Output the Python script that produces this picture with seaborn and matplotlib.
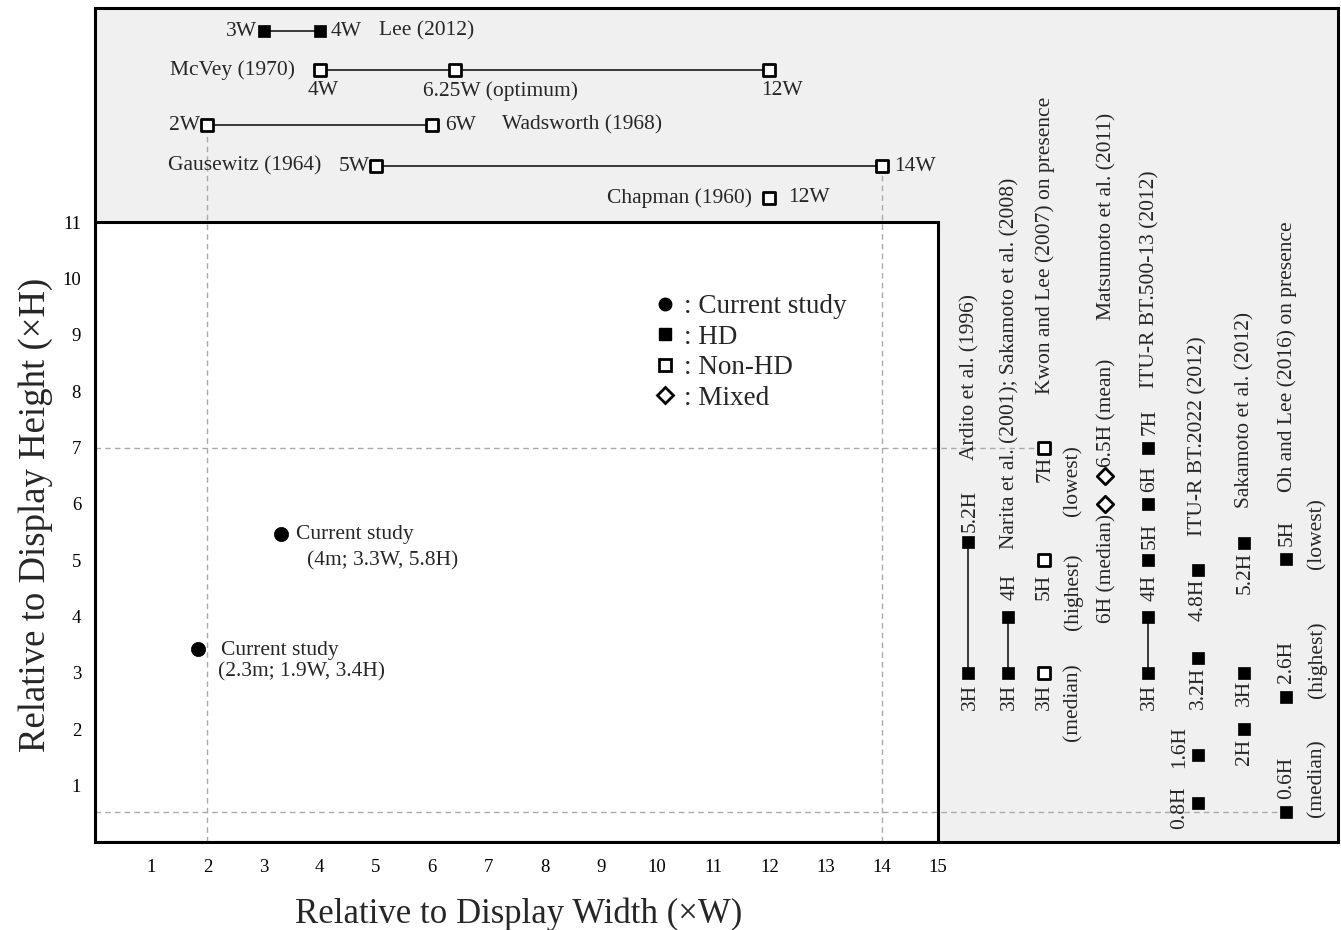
import pandas as pd
import matplotlib.pyplot as plt
import seaborn as sns
from matplotlib.lines import Line2D
from matplotlib.patches import Rectangle

# --- Data ---

# top panel: viewing distance relative to display width (xW)
width_studies = ["Lee (2012)", "McVey (1970)", "Wadsworth (1968)", "Gausewitz (1964)", "Chapman (1960)"]
width_values = [[3, 4], [4, 6.4, 12], [2, 6], [5, 14], [12]]
width_kind = ["HD", "Non-HD", "Non-HD", "Non-HD", "Non-HD"]
width_joined = [2, 3, 2, 2, 0]   # how many leading points are joined by a line

# right panel: viewing distance relative to display height (xH)
height_studies = ["Ardito et al. (1996)", "Narita et al. (2001); Sakamoto et al. (2008)",
                  "Kwon and Lee (2007) on presence", "Matsumoto et al. (2011)",
                  "ITU-R BT.500-13 (2012)", "ITU-R BT.2022 (2012)",
                  "Sakamoto et al. (2012)", "Oh and Lee (2016) on presence"]
height_values = [[3, 5.33], [3, 4], [3, 5, 7], [6, 6.5], [3, 4, 5, 6, 7],
                 [0.69, 1.54, 3.26, 4.83], [2, 3, 5.3], [0.53, 2.57, 5.02]]
height_kind = ["HD", "HD", "Non-HD", "Mixed", "HD", "HD", "HD", "HD"]
height_joined = [2, 2, 0, 0, 2, 0, 0, 0]

# current study
current_w = [1.83, 3.31]
current_h = [3.42, 5.46]

# --- Layout (positions of the study rows / columns outside the main box) ---
width_rows = [14.39, 13.70, 12.72, 11.99, 11.43]
height_cols = [15.53, 16.25, 16.89, 17.97, 18.74, 19.63, 20.44, 21.19]

XMAX, YMAX = 22.12, 14.80
FS = 15.5
GRAY_BG = "#f0f0f0"
DASH = "#aaaaaa"

sns.set_theme(style="white")
plt.rcParams["font.family"] = ["Liberation Serif", "DejaVu Serif"]

# build long tables
rows = []
for study, vals, kind, y in zip(width_studies, width_values, width_kind, width_rows):
    for v in vals:
        rows.append({"study": study, "x": v, "y": y, "kind": kind})
for study, vals, kind, x in zip(height_studies, height_values, height_kind, height_cols):
    for v in vals:
        rows.append({"study": study, "x": x, "y": v, "kind": kind})
for w, h in zip(current_w, current_h):
    rows.append({"study": "Current study", "x": w, "y": h, "kind": "Current"})
points = pd.DataFrame(rows)

seg_rows = []
for study, vals, n, y in zip(width_studies, width_values, width_joined, width_rows):
    for v in vals[:n]:
        seg_rows.append({"seg": study, "x": v, "y": y})
for study, vals, n, x in zip(height_studies, height_values, height_joined, height_cols):
    for v in vals[:n]:
        seg_rows.append({"seg": study, "x": x, "y": v})
segments = pd.DataFrame(seg_rows)

fig = plt.figure(figsize=(13.41, 9.30), dpi=100)
ax = fig.add_axes([95 / 1341, 88 / 930, 1243 / 1341, 834 / 930])
ax.set_xlim(0, XMAX)
ax.set_ylim(0, YMAX)
ax.set_facecolor(GRAY_BG)
for sp in ax.spines.values():
    sp.set_linewidth(2.2)
    sp.set_color("black")

# main white plotting box
ax.add_patch(Rectangle((0, 0), 15, 11, facecolor="white", edgecolor="black", lw=2.2, zorder=1))

# dashed guide lines
ax.vlines(min(width_values[2]), 0, width_rows[2], colors=DASH, linestyles=(0, (4, 3)), lw=1, zorder=2)
ax.vlines(max(width_values[3]), 0, width_rows[3], colors=DASH, linestyles=(0, (4, 3)), lw=1, zorder=2)
ax.hlines(max(height_values[2]), 0, height_cols[2], colors=DASH, linestyles=(0, (4, 3)), lw=1, zorder=2)
ax.hlines(min(height_values[7]), 0, height_cols[7], colors=DASH, linestyles=(0, (4, 3)), lw=1, zorder=2)

# connecting lines
sns.lineplot(data=segments, x="x", y="y", units="seg", estimator=None, sort=False,
             color="#3a3a3a", lw=1.4, ax=ax, legend=False, zorder=3)

styles = {
    "HD": dict(marker="s", color="black", edgecolor="black", s=80, linewidth=0.5),
    "Non-HD": dict(marker="s", color="white", edgecolor="black", s=70, linewidth=2),
    "Mixed": dict(marker="D", color="white", edgecolor="black", s=70, linewidth=2),
    "Current": dict(marker="o", color="black", edgecolor="black", s=105, linewidth=0.5),
}
for kind, st in styles.items():
    sub = points[points["kind"] == kind]
    sns.scatterplot(data=sub, x="x", y="y", ax=ax, legend=False, zorder=5, **st)

# top panel annotations
top_notes = [
    (2.88, 14.39, "3W", "right"), (4.20, 14.39, "4W", "left"), (5.05, 14.39, "Lee (2012)", "left"),
    (3.56, 13.70, "McVey (1970)", "right"),
    (4.06, 13.33, "4W", "center"), (7.21, 13.33, "6.25W (optimum)", "center"), (12.22, 13.33, "12W", "center"),
    (1.87, 12.72, "2W", "right"), (6.23, 12.72, "6W", "left"), (7.24, 12.72, "Wadsworth (1968)", "left"),
    (4.02, 11.99, "Gausewitz (1964)", "right"), (4.89, 11.99, "5W", "right"), (14.23, 11.99, "14W", "left"),
    (11.69, 11.43, "Chapman (1960)", "right"), (12.33, 11.43, "12W", "left"),
]
for x, y, s, ha in top_notes:
    ax.text(x, y, s, ha=ha, va="center", fontsize=FS, zorder=6)

# right panel annotations (rotated)
side_notes = [
    (15.57, 2.57, "3H"), (15.57, 5.87, "5.2H"), (15.57, 8.25, height_studies[0]),
    (16.28, 2.57, "3H"), (16.28, 4.52, "4H"), (16.28, 8.50, height_studies[1]),
    (16.90, 2.57, "3H"), (16.90, 4.52, "5H"), (16.90, 6.62, "7H"), (16.90, 10.59, height_studies[2]),
    (17.40, 2.48, "(median)"), (17.40, 4.44, "(highest)"), (17.40, 6.42, "(lowest)"),
    (18.01, 4.86, "6H (median)"), (18.01, 7.61, "6.5H (mean)"), (18.01, 11.11, height_studies[3]),
    (18.77, 2.57, "3H"), (18.77, 4.51, "4H"), (18.77, 5.43, "5H"), (18.77, 6.44, "6H"),
    (18.77, 7.45, "7H"), (18.77, 9.99, height_studies[4]),
    (19.31, 0.60, "0.8H"), (19.31, 1.69, "1.6H"), (19.63, 2.73, "3.2H"), (19.63, 4.29, "4.8H"),
    (19.63, 7.20, height_studies[5]),
    (20.46, 1.60, "2H"), (20.46, 2.64, "3H"), (20.46, 4.77, "5.2H"), (20.46, 7.67, height_studies[6]),
    (21.21, 1.14, "0.6H"), (21.21, 3.19, "2.6H"), (21.21, 5.48, "5H"), (21.21, 8.62, height_studies[7]),
    (21.74, 1.14, "(median)"), (21.74, 3.23, "(highest)"), (21.74, 5.48, "(lowest)"),
]
for x, y, s in side_notes:
    ax.text(x, y, s, ha="center", va="center", rotation=90, fontsize=FS, zorder=6)

# current study labels
cur_notes = [
    (2.24, 3.39, "Current study"), (2.19, 3.02, "(2.3m; 1.9W, 3.4H)"),
    (3.58, 5.46, "Current study"), (3.77, 4.99, "(4m; 3.3W, 5.8H)"),
]
for x, y, s in cur_notes:
    ax.text(x, y, s, ha="left", va="center", fontsize=FS, zorder=6)

# legend
handles = [
    Line2D([], [], ls="none", marker="o", ms=9, mfc="black", mec="black"),
    Line2D([], [], ls="none", marker="s", ms=8.5, mfc="black", mec="black"),
    Line2D([], [], ls="none", marker="s", ms=8, mfc="white", mec="black", mew=2),
    Line2D([], [], ls="none", marker="D", ms=8, mfc="white", mec="black", mew=2),
]
labels = [": Current study", ": HD", ": Non-HD", ": Mixed"]
ax.legend(handles, labels, loc="upper left", bbox_to_anchor=(9.97, 9.72), bbox_transform=ax.transData,
          frameon=False, fontsize=19.5, handlelength=0.75, handletextpad=0.3, labelspacing=0.2,
          borderpad=0, borderaxespad=0)

# axes ticks & labels
ax.set_xticks(range(1, 16))
ax.set_yticks(range(1, 12))
ax.tick_params(axis="both", direction="in", length=5, width=1, color="#555555",
               labelsize=13.5, labelcolor="black")
ax.tick_params(axis="x", pad=12)
ax.tick_params(axis="y", pad=10)
ax.set_xlabel("Relative to Display Width (×W)", fontsize=25)
ax.set_ylabel("Relative to Display Height (×H)", fontsize=26.5)
ax.xaxis.set_label_coords(7.53 / XMAX, -0.066)
ax.yaxis.set_label_coords(-0.034, 5.8 / YMAX)

fig.savefig("out.png", dpi=100)
